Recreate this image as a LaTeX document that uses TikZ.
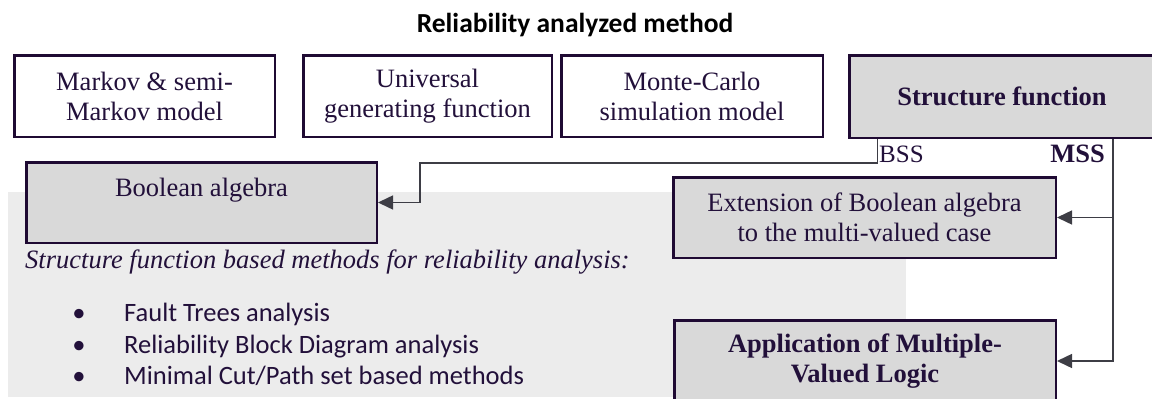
\documentclass[tikz,border=0pt]{standalone}
\usepackage{fontspec}
\setmainfont{Liberation Serif}
\newfontfamily\calib{Carlito}
\usetikzlibrary{arrows.meta}
\definecolor{bord}{HTML}{1F0A33}
\definecolor{txt}{HTML}{22103A}
\definecolor{connc}{HTML}{3D3D45}
\definecolor{boxfill}{HTML}{D9D9D9}
\definecolor{bgc}{HTML}{ECECEC}
\begin{document}
\begin{tikzpicture}[x=1pt,y=-1pt,
  wbox/.style={draw=bord,line width=2.5pt,fill=white,text=txt,align=center,inner sep=0pt,
    font=\fontsize{26.5}{30}\selectfont},
  gbox/.style={wbox,fill=boxfill},
  connline/.style={draw=connc,line width=1.5pt,-{Triangle[length=15pt,width=14pt]}},
  plain/.style={text=txt,inner sep=0pt,font=\fontsize{26.5}{30}\selectfont},
  listtxt/.style={text=txt,inner sep=0pt,anchor=base west,font=\calib\fontsize{26.5}{30}\selectfont},
  bul/.style={text=txt,inner sep=0pt,anchor=base,font=\calib\fontsize{26.5}{30}\selectfont}]
\useasboundingbox (0,0) rectangle (1152,399);
% background panel
\fill[bgc] (8,192) rectangle (906,397);
% title
\node[inner sep=0pt,anchor=base,font=\calib\bfseries\fontsize{27.5}{31}\selectfont] (title) at (575,32) {Reliability analyzed method};
% top row
\node[wbox,minimum width=260.5pt,minimum height=81.5pt] (markov) at (144.5,96) {Markov \& semi-\\Markov model};
\node[wbox,minimum width=248.5pt,minimum height=81.5pt] (ugf) at (427.5,96) {Universal\\generating function};
\node[wbox,minimum width=261.5pt,minimum height=81.5pt] (mc) at (692,96) {Monte-Carlo\\simulation model};
\node[gbox,minimum width=305.5pt,minimum height=82.5pt,font=\bfseries\fontsize{26.5}{30}\selectfont] (sf) at (1002,96.5) {Structure function};
% second level
\node[gbox,minimum width=350.5pt,minimum height=80.5pt] (bool) at (201.5,202.5) {Boolean algebra\\~};
\node[gbox,minimum width=382.5pt,minimum height=80.5pt] (ext) at (864.5,217.5) {Extension of Boolean algebra\\to the multi-valued case};
\node[gbox,minimum width=381.5pt,minimum height=81.5pt,font=\bfseries\fontsize{26.5}{30}\selectfont] (app) at (865,361) {Application of Multiple-\\Valued Logic};
% labels
\node[plain,anchor=base west,font=\fontsize{25}{30}\selectfont] (bss) at (879,162) {BSS};
\node[plain,anchor=base east,font=\bfseries\fontsize{26.5}{30}\selectfont] (mss) at (1105,162) {MSS};
% connectors
\coordinate (bssstart) at (877.5,139);
\coordinate (bssknee) at (877.5,163);
\coordinate (bssturn) at (420,163);
\draw[connline] (bssstart) -- (bssknee) -- (bssturn) |- (bool.east);
\coordinate (msstop) at (1113,139);
\draw[connline] (msstop) |- (ext.east);
\draw[connline] (msstop) |- (app.east);
% structure-function methods text
\node[plain,anchor=base west,font=\itshape\fontsize{26.5}{30}\selectfont] (sfm) at (25,268) {Structure function based methods for reliability analysis:};
\node[bul] (b1) at (79,321) {\textbullet};
\node[listtxt] (l1) at (124,321) {Fault Trees analysis};
\node[bul] (b2) at (79,353) {\textbullet};
\node[listtxt] (l2) at (124,353) {Reliability Block Diagram analysis};
\node[bul] (b3) at (79,384) {\textbullet};
\node[listtxt] (l3) at (124,384) {Minimal Cut/Path set based methods};
\end{tikzpicture}
\end{document}
